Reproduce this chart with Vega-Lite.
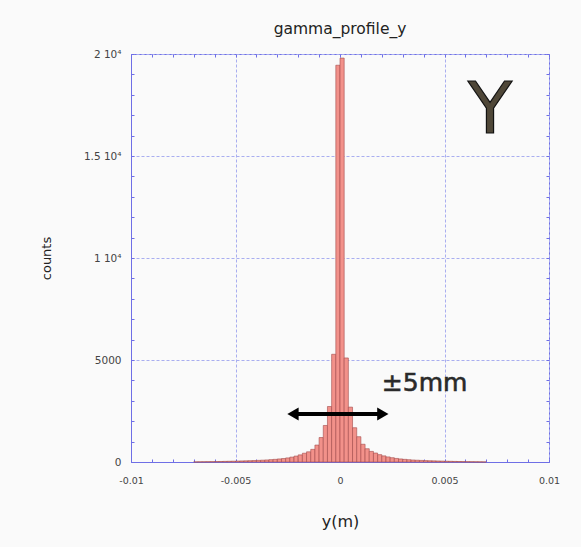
{
  "$schema": "https://vega.github.io/schema/vega-lite/v6.json",
  "width": 418,
  "height": 408,
  "autosize": "none",
  "padding": {"left": 131, "top": 54, "right": 32, "bottom": 85},
  "background": "#fafafa",
  "title": {"text": "gamma_profile_y", "font": "DejaVu Sans", "fontSize": 15.5, "fontWeight": "normal", "color": "#222222", "offset": 12},
  "config": {
    "view": {"stroke": "#6f6fe6", "strokeWidth": 1},
    "axis": {
      "domainColor": "#6f6fe6",
      "tickColor": "#6f6fe6",
      "labelFont": "DejaVu Sans",
      "labelFontSize": 9.5,
      "labelColor": "#444444",
      "titleFont": "DejaVu Sans",
      "titleFontWeight": "normal",
      "titleColor": "#222222",
      "gridColor": "#a9aef0",
      "gridDash": [3, 2],
      "labelOverlap": false,
      "labelFlush": false
    }
  },
  "datasets": {
    "bins": [
      {"x0": -0.0070, "x1": -0.0068, "count": 6},
      {"x0": -0.0068, "x1": -0.0066, "count": 9},
      {"x0": -0.0066, "x1": -0.0064, "count": 12},
      {"x0": -0.0064, "x1": -0.0062, "count": 15},
      {"x0": -0.0062, "x1": -0.0060, "count": 18},
      {"x0": -0.0060, "x1": -0.0058, "count": 22},
      {"x0": -0.0058, "x1": -0.0056, "count": 26},
      {"x0": -0.0056, "x1": -0.0054, "count": 30},
      {"x0": -0.0054, "x1": -0.0052, "count": 35},
      {"x0": -0.0052, "x1": -0.0050, "count": 40},
      {"x0": -0.0050, "x1": -0.0048, "count": 46},
      {"x0": -0.0048, "x1": -0.0046, "count": 52},
      {"x0": -0.0046, "x1": -0.0044, "count": 58},
      {"x0": -0.0044, "x1": -0.0042, "count": 64},
      {"x0": -0.0042, "x1": -0.0040, "count": 72},
      {"x0": -0.0040, "x1": -0.0038, "count": 80},
      {"x0": -0.0038, "x1": -0.0036, "count": 90},
      {"x0": -0.0036, "x1": -0.0034, "count": 100},
      {"x0": -0.0034, "x1": -0.0032, "count": 115},
      {"x0": -0.0032, "x1": -0.0030, "count": 130},
      {"x0": -0.0030, "x1": -0.0028, "count": 150},
      {"x0": -0.0028, "x1": -0.0026, "count": 170},
      {"x0": -0.0026, "x1": -0.0024, "count": 200},
      {"x0": -0.0024, "x1": -0.0022, "count": 240},
      {"x0": -0.0022, "x1": -0.0020, "count": 290},
      {"x0": -0.0020, "x1": -0.0018, "count": 350},
      {"x0": -0.0018, "x1": -0.0016, "count": 430},
      {"x0": -0.0016, "x1": -0.0014, "count": 500},
      {"x0": -0.0014, "x1": -0.0012, "count": 620},
      {"x0": -0.0012, "x1": -0.0010, "count": 830},
      {"x0": -0.0010, "x1": -0.0008, "count": 1200},
      {"x0": -0.0008, "x1": -0.0006, "count": 1790},
      {"x0": -0.0006, "x1": -0.0004, "count": 2720},
      {"x0": -0.0004, "x1": -0.0002, "count": 5280},
      {"x0": -0.0002, "x1": 0.0, "count": 19450},
      {"x0": 0.0, "x1": 0.0002, "count": 19800},
      {"x0": 0.0002, "x1": 0.0004, "count": 5100},
      {"x0": 0.0004, "x1": 0.0006, "count": 2690},
      {"x0": 0.0006, "x1": 0.0008, "count": 1680},
      {"x0": 0.0008, "x1": 0.0010, "count": 1240},
      {"x0": 0.0010, "x1": 0.0012, "count": 870},
      {"x0": 0.0012, "x1": 0.0014, "count": 650},
      {"x0": 0.0014, "x1": 0.0016, "count": 520},
      {"x0": 0.0016, "x1": 0.0018, "count": 440},
      {"x0": 0.0018, "x1": 0.0020, "count": 360},
      {"x0": 0.0020, "x1": 0.0022, "count": 300},
      {"x0": 0.0022, "x1": 0.0024, "count": 250},
      {"x0": 0.0024, "x1": 0.0026, "count": 210},
      {"x0": 0.0026, "x1": 0.0028, "count": 175},
      {"x0": 0.0028, "x1": 0.0030, "count": 150},
      {"x0": 0.0030, "x1": 0.0032, "count": 130},
      {"x0": 0.0032, "x1": 0.0034, "count": 112},
      {"x0": 0.0034, "x1": 0.0036, "count": 98},
      {"x0": 0.0036, "x1": 0.0038, "count": 88},
      {"x0": 0.0038, "x1": 0.0040, "count": 78},
      {"x0": 0.0040, "x1": 0.0042, "count": 70},
      {"x0": 0.0042, "x1": 0.0044, "count": 62},
      {"x0": 0.0044, "x1": 0.0046, "count": 56},
      {"x0": 0.0046, "x1": 0.0048, "count": 50},
      {"x0": 0.0048, "x1": 0.0050, "count": 44},
      {"x0": 0.0050, "x1": 0.0052, "count": 38},
      {"x0": 0.0052, "x1": 0.0054, "count": 33},
      {"x0": 0.0054, "x1": 0.0056, "count": 28},
      {"x0": 0.0056, "x1": 0.0058, "count": 24},
      {"x0": 0.0058, "x1": 0.0060, "count": 20},
      {"x0": 0.0060, "x1": 0.0062, "count": 17},
      {"x0": 0.0062, "x1": 0.0064, "count": 14},
      {"x0": 0.0064, "x1": 0.0066, "count": 11},
      {"x0": 0.0066, "x1": 0.0068, "count": 8},
      {"x0": 0.0068, "x1": 0.0070, "count": 5}
    ],
    "arrow": [{"xa": -0.0023, "xb": 0.0021, "ya": 2350}],
    "heads": [
      {"xh": -0.00225, "yh": 2350, "dir": "left"},
      {"xh": 0.00205, "yh": 2350, "dir": "right"}
    ],
    "pm": [{"xt": 0.00405, "yt": 3870, "label": "±5mm"}],
    "bigY": [{"xt": 0.00718, "yt": 17230, "label": "Y"}]
  },
  "resolve": {"axis": {"x": "independent", "y": "independent"}},
  "layer": [
    {
      "data": {"name": "bins"},
      "mark": {"type": "rect", "fill": "#f2918a", "stroke": "#a34a4a", "strokeWidth": 0.6},
      "encoding": {
        "x": {
          "field": "x0", "type": "quantitative",
          "scale": {"domain": [-0.01, 0.01], "nice": false, "zero": false},
          "axis": {
            "orient": "bottom",
            "values": [-0.01, -0.009, -0.008, -0.007, -0.006, -0.005, -0.004, -0.003, -0.002, -0.001, 0, 0.001, 0.002, 0.003, 0.004, 0.005, 0.006, 0.007, 0.008, 0.009, 0.01],
            "labelExpr": "round(datum.value*1000)==-10?'-0.01':round(datum.value*1000)==-5?'-0.005':round(datum.value*1000)==0?'0':round(datum.value*1000)==5?'0.005':round(datum.value*1000)==10?'0.01':''",
            "grid": true,
            "gridOpacity": {"condition": {"test": "round(datum.value*1000)%5==0", "value": 1}, "value": 0},
            "tickSize": -3,
            "labelPadding": 16,
            "title": "y(m)",
            "titleFontSize": 16,
            "titlePadding": 29
          }
        },
        "x2": {"field": "x1"},
        "y": {
          "field": "count", "type": "quantitative",
          "scale": {"domain": [0, 20000], "nice": false},
          "axis": {
            "orient": "left",
            "values": [0, 1000, 2000, 3000, 4000, 5000, 6000, 7000, 8000, 9000, 10000, 11000, 12000, 13000, 14000, 15000, 16000, 17000, 18000, 19000, 20000],
            "labelExpr": "datum.value==20000?'2 10⁴':datum.value==15000?'1.5 10⁴':datum.value==10000?'1 10⁴':datum.value==5000?'5000':datum.value==0?'0':''",
            "labelFontSize": 10.5,
            "grid": true,
            "gridOpacity": {"condition": {"test": "datum.value%5000==0", "value": 1}, "value": 0},
            "tickSize": -3,
            "labelPadding": 13,
            "title": "counts",
            "titleFontSize": 13,
            "titlePadding": 30
          }
        },
        "y2": {"datum": 0}
      }
    },
    {
      "data": {"name": "arrow"},
      "mark": {"type": "rule", "color": "#000000", "strokeWidth": 4},
      "encoding": {
        "x": {
          "field": "xa", "type": "quantitative",
          "scale": {"domain": [-0.01, 0.01], "nice": false, "zero": false},
          "axis": {
            "orient": "top",
            "values": [-0.01, -0.009, -0.008, -0.007, -0.006, -0.005, -0.004, -0.003, -0.002, -0.001, 0, 0.001, 0.002, 0.003, 0.004, 0.005, 0.006, 0.007, 0.008, 0.009, 0.01],
            "labels": false, "grid": false, "domain": false, "tickSize": -3, "title": null
          }
        },
        "x2": {"field": "xb"},
        "y": {
          "field": "ya", "type": "quantitative",
          "scale": {"domain": [0, 20000], "nice": false},
          "axis": {
            "orient": "right",
            "values": [0, 1000, 2000, 3000, 4000, 5000, 6000, 7000, 8000, 9000, 10000, 11000, 12000, 13000, 14000, 15000, 16000, 17000, 18000, 19000, 20000],
            "labels": false, "grid": false, "domain": false, "tickSize": -3, "title": null
          }
        }
      }
    },
    {
      "data": {"name": "heads"},
      "mark": {"type": "point", "filled": true, "opacity": 1, "color": "#000000", "size": 170},
      "encoding": {
        "x": {"field": "xh", "type": "quantitative", "axis": null},
        "y": {"field": "yh", "type": "quantitative", "axis": null},
        "shape": {"field": "dir", "type": "nominal", "scale": {"domain": ["left", "right"], "range": ["triangle-left", "triangle-right"]}, "legend": null}
      }
    },
    {
      "data": {"name": "pm"},
      "mark": {"type": "text", "font": "DejaVu Sans", "fontSize": 25, "color": "#2a2a2a", "stroke": "#2a2a2a", "strokeWidth": 0.6, "align": "center", "baseline": "middle"},
      "encoding": {
        "x": {"field": "xt", "type": "quantitative", "axis": null},
        "y": {"field": "yt", "type": "quantitative", "axis": null},
        "text": {"field": "label"}
      }
    },
    {
      "data": {"name": "bigY"},
      "mark": {"type": "text", "font": "DejaVu Sans", "fontSize": 72, "color": "#4f4738", "stroke": "#111111", "strokeWidth": 1.2, "align": "center", "baseline": "middle"},
      "encoding": {
        "x": {"field": "xt", "type": "quantitative", "axis": null},
        "y": {"field": "yt", "type": "quantitative", "axis": null},
        "text": {"field": "label"}
      }
    }
  ]
}
